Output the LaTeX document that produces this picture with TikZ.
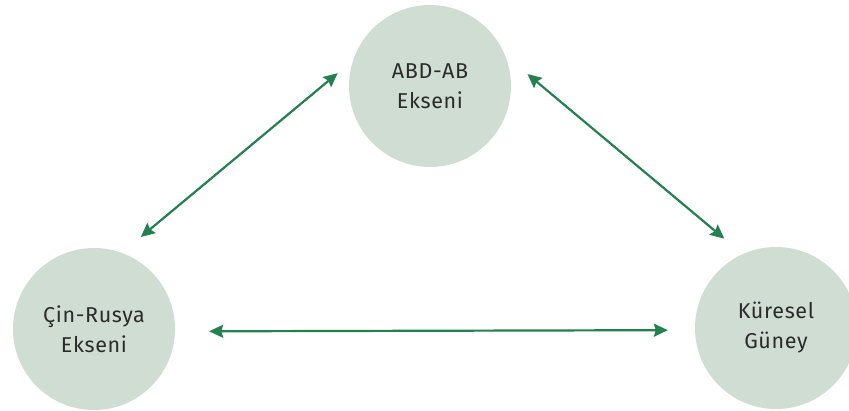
\documentclass[tikz,border=0pt]{standalone}
\usepackage{fontspec}
\setmainfont{Fira Sans}[LetterSpace=3]
\usetikzlibrary{arrows.meta}
\definecolor{circfill}{HTML}{D0DDD3}
\definecolor{arrgreen}{HTML}{23804F}
\definecolor{txt}{HTML}{2B2B2B}
\begin{document}
\begin{tikzpicture}[x=1pt,y=-1pt,
  bloc/.style={circle,fill=circfill,minimum size=162pt,inner sep=0pt,align=center,
    text=txt,font=\fontsize{21.5}{30}\selectfont},
  arr/.style={draw=arrgreen,line width=2.2pt,
    {Stealth[length=14pt,width=13pt,inset=2pt]}-{Stealth[length=14pt,width=13pt,inset=2pt]}}]
\useasboundingbox (0,0) rectangle (849,411);
\node[bloc] (t) at (430,86) {\raisebox{-3pt}{ABD-AB}\\\raisebox{-3pt}{Ekseni}};
\node[bloc] (l) at (94,329) {\raisebox{-2pt}{Çin-Rusya}\\\raisebox{-2pt}{Ekseni}};
\node[bloc] (r) at (776,328) {\raisebox{-2pt}{Küresel}\\\raisebox{-2pt}{Güney}};
\draw[arr] ([shift={(63.2:22pt)}]l.63.2) -- ([shift={(172.6:12pt)}]t.172.6);
\draw[arr] ([shift={(7:17pt)}]t.7) -- ([shift={(120.3:22pt)}]r.120.3);
\draw[arr] ([shift={(-1.5:34pt)}]l.-1.5) -- ([shift={(181.6:27pt)}]r.181.6);
\end{tikzpicture}
\end{document}
